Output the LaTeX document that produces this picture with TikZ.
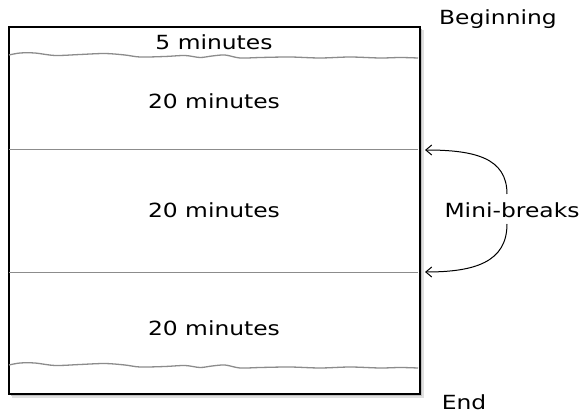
\documentclass[tikz,border=0pt]{standalone}
\usepackage{fontspec}
\setmainfont{DejaVu Sans}[FakeStretch=1.2]
\usetikzlibrary{arrows.meta}
\begin{document}
\begin{tikzpicture}[x=1pt,y=-1pt,
  lbl/.style={font=\fontsize{19.5}{22}\selectfont, inner sep=0pt},
  sep/.style={draw=black!45, line width=0.8pt},
  wave/.style={draw=black!45, line width=1.3pt},
  brk/.style={-{Straight Barb[length=6pt,width=10pt]}, line width=1pt}]
\useasboundingbox (0,0) rectangle (587,414);
% shadow
\fill[black!12] (12,30) rectangle (424,398);
\fill[black!25] (11,29) rectangle (422,396);
% main box
\node[draw, line width=1.8pt, fill=white, minimum width=411pt, minimum height=367pt,
      anchor=north west, inner sep=0pt] (box) at (8,26) {};
% wavy lines
\foreach \dy in {0,310}{
  \draw[wave, yshift=-\dy pt] plot[smooth] coordinates {(9,55) (20,53) (35,53) (55,55.5) (80,54.5)
    (105,53.5) (125,55) (140,57) (165,56.5) (185,55.5) (200,57.5) (212,56) (225,55) (240,58)
    (260,57.5) (290,57) (320,58) (350,57) (380,58) (400,57.5) (418,58)};
}
% separators
\coordinate (l1) at (9,149);   \coordinate (r1) at (418,149);
\coordinate (l2) at (9,272);   \coordinate (r2) at (418,272);
\draw[sep] (l1) -- (r1);
\draw[sep] (l2) -- (r2);
% labels
\node[lbl] (m5) at (214,42) {5 minutes};
\node[lbl] (m20a) at (214,101) {20 minutes};
\node[lbl] (m20b) at (214,210) {20 minutes};
\node[lbl] (m20c) at (214,328) {20 minutes};
\node[lbl] (beg) at (498,19) {Beginning};
\node[lbl] (mb) at (512,210) {Mini-breaks};
\node[lbl] (end) at (464,402) {End};
% arrows
\coordinate (t1) at (425,150);
\coordinate (t2) at (425,272);
\coordinate (s1) at (507,194);
\coordinate (s2) at (507,224);
\draw[brk] (s1) .. controls (507,158) and (475,150) .. (t1);
\draw[brk] (s2) .. controls (507,262) and (475,272) .. (t2);
\end{tikzpicture}
\end{document}
